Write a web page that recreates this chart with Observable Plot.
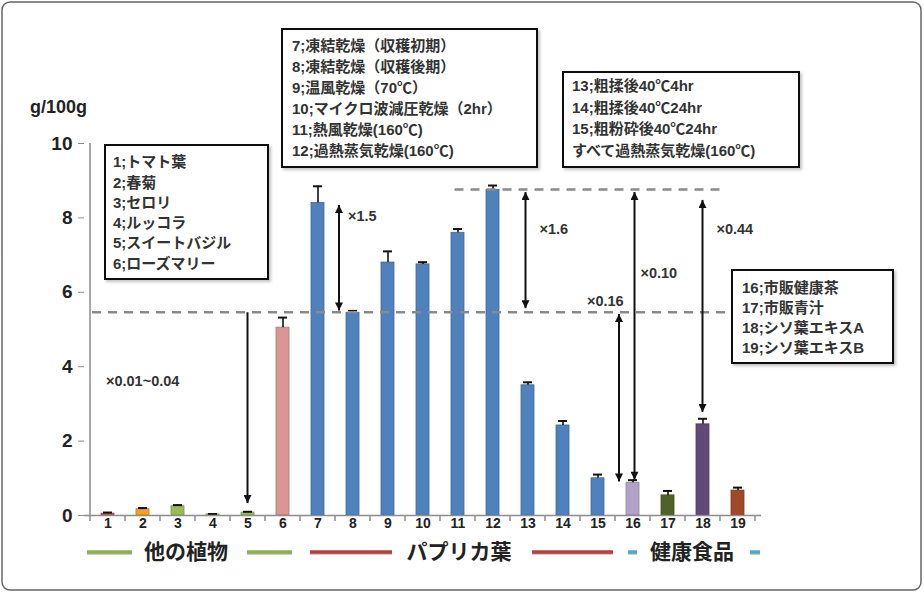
<!DOCTYPE html>
<html><head><meta charset="utf-8">
<script src="https://cdn.jsdelivr.net/npm/d3@7"></script>
<script src="https://cdn.jsdelivr.net/npm/@observablehq/plot@0.6"></script>
<style>body{margin:0;background:#fff}</style>
</head><body><div id="chart"></div>
<script>
const categories = ["1","2","3","4","5","6","7","8","9","10","11","12","13","14","15","16","17","18","19"];
const values = [0.05,0.17,0.25,0.03,0.08,5.05,8.4,5.45,6.8,6.75,7.6,8.75,3.5,2.42,1.0,0.88,0.54,2.45,0.67];
const errors = [0.03,0.03,0.03,0.01,0.02,0.27,0.45,0.05,0.3,0.06,0.1,0.12,0.08,0.12,0.1,0.07,0.12,0.15,0.08];
const colors = ["#c0504d","#f7a21b","#9bbb59","#9bbb59","#9bbb59","#d99694",
  "#4f81bd","#4f81bd","#4f81bd","#4f81bd","#4f81bd","#4f81bd","#4f81bd","#4f81bd","#4f81bd",
  "#b3a2c7","#4f6228","#604a7b","#a0482a"];
const yTicks = [0,2,4,6,8,10];
const yLabel = "g/100g";
const box1 = ["1;トマト葉","2;春菊","3;セロリ","4;ルッコラ","5;スイートバジル","6;ローズマリー"];
const box2 = ["7;凍結乾燥（収穫初期）","8;凍結乾燥（収穫後期）","9;温風乾燥（70℃）","10;マイクロ波減圧乾燥（2hr）","11;熱風乾燥(160℃)","12;過熱蒸気乾燥(160℃)"];
const box3 = ["13;粗揉後40℃4hr","14;粗揉後40℃24hr","15;粗粉砕後40℃24hr","すべて過熱蒸気乾燥(160℃)"];
const box4 = ["16;市販健康茶","17;市販青汁","18;シソ葉エキスA","19;シソ葉エキスB"];
const ratioLabels = ["×0.01~0.04","×1.5","×1.6","×0.16","×0.10","×0.44"];
const groupNames = ["他の植物","パプリカ葉","健康食品"];
const groupColors = ["#8db04e","#b5403c","#4bacc6"];

const data = categories.map((c,i)=>({cat:c,value:values[i],err:errors[i],color:colors[i]}));
const FONT = '"Liberation Sans","Noto Sans CJK JP",sans-serif';

const plot = Plot.plot({
  width: 924, height: 593,
  marginLeft: 84, marginRight: 163, marginTop: 143, marginBottom: 78,
  style: {fontFamily: FONT, background: "white", color: "#222"},
  x: {domain: categories, padding: 0, label: null},
  y: {domain: [0,10], label: null},
  marks: [
    Plot.barY(data, {x:"cat", y:"value", fill:"color", stroke: d=>d3.color(d.color).darker(0.6).formatHex(), strokeWidth:0.8, insetLeft:11, insetRight:11}),
    Plot.ruleX(data, {x:"cat", y1:"value", y2:d=>d.value+d.err, stroke:"#111", strokeWidth:1.6}),
    Plot.tickY(data, {x:"cat", y:d=>d.value+d.err, insetLeft:13, insetRight:13, stroke:"#111", strokeWidth:2}),
    Plot.ruleY([0], {stroke:"#8c8c8c", strokeWidth:1.5}),
    Plot.axisY({ticks: yTicks, tickSize:6, tickPadding:6, stroke:"#8c8c8c", tickFormat:d=>String(d)}),
    Plot.axisX({tickSize:0, tickPadding:3})
  ]
});
document.getElementById("chart").appendChild(plot);

const svg = d3.select(plot);
// axis label styling
svg.selectAll('[aria-label="y-axis tick label"] text').style("font-size","19px").style("font-weight","bold").attr("fill","#222");
svg.selectAll('[aria-label="x-axis tick label"] text').style("font-size","14px").style("font-weight","bold").attr("fill","#222");

const xs = plot.scale("x"), ys = plot.scale("y");
const bw = xs.bandwidth;
const x0 = xs.apply(categories[0]);
const xEnd = x0 + bw*categories.length;
const xc = c => xs.apply(c) + bw/2;
const Y = v => ys.apply(v);

const defs = svg.append("defs");
defs.append("marker").attr("id","ah").attr("viewBox","0 0 10 10").attr("refX",10).attr("refY",5)
  .attr("markerWidth",10).attr("markerHeight",8).attr("markerUnits","userSpaceOnUse")
  .attr("orient","auto-start-reverse")
  .append("path").attr("d","M0,0L10,5L0,10z").attr("fill","#111");
defs.append("filter").attr("id","sh").append("feDropShadow").attr("dx",2).attr("dy",2).attr("stdDeviation",1.5).attr("flood-color","#999").attr("flood-opacity",0.6);

const g = svg.append("g").style("font-family", FONT).attr("text-anchor","start");

// y axis line and x boundary ticks
g.append("line").attr("x1",x0).attr("x2",x0).attr("y1",Y(0)).attr("y2",Y(10)).attr("stroke","#8c8c8c").attr("stroke-width",1.5);
for (let i=0;i<=categories.length;i++){
  g.append("line").attr("x1",x0+i*bw).attr("x2",x0+i*bw).attr("y1",Y(0)).attr("y2",Y(0)+6).attr("stroke","#8c8c8c").attr("stroke-width",1.5);
}
g.append("text").attr("x",30).attr("y",Y(10)-30).attr("text-anchor","start").style("font-size","18px").style("font-weight","bold").attr("fill","#222").text(yLabel);

// dashed reference lines
const ref1 = values[7], ref2 = values[11];
g.append("line").attr("x1",x0+2).attr("x2",xEnd).attr("y1",Y(ref1)).attr("y2",Y(ref1))
  .attr("stroke","#8a8a8a").attr("stroke-width",2.5).attr("stroke-dasharray","9,7");
g.append("line").attr("x1",xc("11")-3).attr("x2",xs.apply("19")).attr("y1",Y(ref2)).attr("y2",Y(ref2))
  .attr("stroke","#8a8a8a").attr("stroke-width",2.5).attr("stroke-dasharray","9,7");

// arrows
const arrows = [
  {x: xc("5"), y1: ref1, y2: 0.32, both:false, label: ratioLabels[0], lx: x0+16, ly: 3.6},
  {x: xs.apply("8")+4, y1: 8.33, y2: 5.5, both:true, label: ratioLabels[1], lx: xs.apply("8")+13, ly: 8.05},
  {x: xc("13")-2, y1: 8.68, y2: 5.56, both:true, label: ratioLabels[2], lx: xc("13")+12, ly: 7.7},
  {x: xs.apply("16")+4, y1: 5.4, y2: 0.9, both:true, label: ratioLabels[3], lx: xs.apply("16")-28, ly: 5.75},
  {x: xc("16")+2, y1: 8.68, y2: 0.95, both:true, label: ratioLabels[4], lx: xc("16")+8, ly: 6.5},
  {x: xc("18"), y1: 8.47, y2: 2.77, both:true, label: ratioLabels[5], lx: xc("18")+14, ly: 7.7}
];
for (const a of arrows){
  const l = g.append("line").attr("x1",a.x).attr("x2",a.x).attr("y1",Y(a.y1)).attr("y2",Y(a.y2))
    .attr("stroke","#111").attr("stroke-width",2).attr("marker-end","url(#ah)");
  if (a.both) l.attr("marker-start","url(#ah)");
  g.append("text").attr("x",a.lx).attr("y",Y(a.ly)).attr("dy","0.35em").attr("text-anchor","start")
    .style("font-size","14.5px").style("font-weight","bold").attr("fill","#333").text(a.label);
}

// annotation boxes
function box(lines, x, y, w, h, tx, ty, lh){
  g.append("rect").attr("x",x).attr("y",y).attr("width",w).attr("height",h)
    .attr("fill","white").attr("stroke","#111").attr("stroke-width",2).attr("filter","url(#sh)");
  lines.forEach((t,i)=>g.append("text").attr("x",tx).attr("y",ty+i*lh).attr("dy","0.35em").attr("text-anchor","start")
    .style("font-size","15px").style("font-weight","bold").attr("fill","#333").text(t));
}
box(box1, 105, 145, 163, 134, 113, 162, 20.3);
box(box2, 282, 29, 255, 138, 292, 46, 21);
box(box3, 563, 72, 236, 95, 572, 86, 21.5);
box(box4, 732, 270, 161, 93, 742, 288, 20);

// group legend along the bottom
const gy = 552;
const segs = [
  [87,132,0],[247,292,0],[310,392,1],[532,613,1],[628,637,2],[750,760,2]
];
for (const [a,b,k] of segs){
  g.append("line").attr("x1",a).attr("x2",b).attr("y1",gy+1).attr("y2",gy+1).attr("stroke","#bbb").attr("stroke-width",3.5);
  g.append("line").attr("x1",a).attr("x2",b).attr("y1",gy).attr("y2",gy).attr("stroke",groupColors[k]).attr("stroke-width",3.5);
}
[[186,0],[459,1],[692,2]].forEach(([cx,k])=>{
  g.append("text").attr("x",cx).attr("y",gy).attr("dy","0.35em").attr("text-anchor","middle")
    .style("font-size","21px").style("font-weight","bold").attr("fill","#222").text(groupNames[k]);
});

// outer frame
g.append("rect").attr("x",2).attr("y",2).attr("width",919).attr("height",588).attr("rx",8)
  .attr("fill","none").attr("stroke","#666").attr("stroke-width",1.5);
</script></body></html>
